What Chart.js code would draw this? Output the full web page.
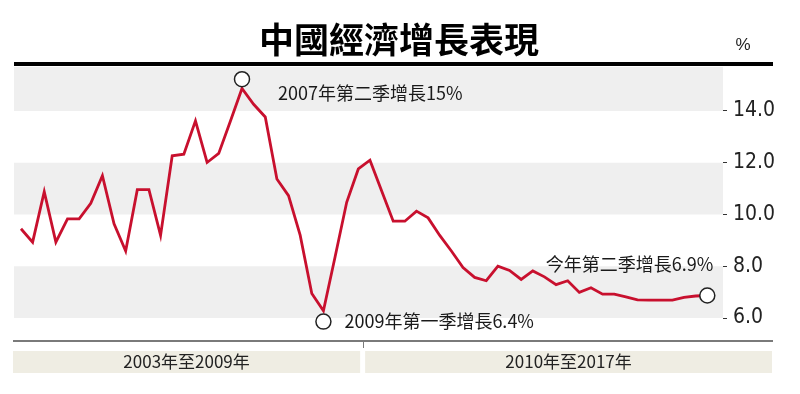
<!DOCTYPE html>
<html>
<head>
<meta charset="utf-8">
<script src="https://cdn.jsdelivr.net/npm/chart.js@4.4.0/dist/chart.umd.min.js"></script>
<style>
  html, body { margin: 0; padding: 0; background: #fff; }
</style>
</head>
<body>
<canvas id="myChart" width="800" height="394"></canvas>
<script>
// quarterly GDP growth, 2002Q3 .. 2017Q2
var quarters = [];
for (var yr = 2002; yr <= 2017; yr++) {
  for (var q = 1; q <= 4; q++) {
    if ((yr === 2002 && q < 3) || (yr === 2017 && q > 2)) continue;
    quarters.push(yr + "Q" + q);
  }
}
var growth = [
  9.45, 8.93, 10.88, 8.93, 9.83, 9.83, 10.43, 11.5, 9.64, 8.59,
  10.96, 10.96, 9.19, 12.27, 12.33, 13.62, 12.01, 12.36, 13.6, 14.87,
  14.26, 13.77, 11.37, 10.73, 9.2, 6.95, 6.28, 8.36, 10.47, 11.76,
  12.1, 10.92, 9.74, 9.74, 10.13, 9.87, 9.19, 8.59, 7.95, 7.57,
  7.44, 8.0, 7.84, 7.49, 7.82, 7.59, 7.29, 7.44, 6.99, 7.17,
  6.92, 6.92, 6.82, 6.7, 6.69, 6.69, 6.69, 6.8, 6.85, 6.87
];
var yTicks = [6, 8, 10, 12, 14];
var periods = ["2003年至2009年", "2010年至2017年"];
var noteQuarter = ["2007Q2", "2009Q1", "2017Q2"];
var noteMarker = [15.23, 5.86, 6.87];
var noteText = ["2007年第二季增長15%", "2009年第一季增長6.4%", "今年第二季增長6.9%"];

var cjk = "'Noto Sans CJK TC', 'Noto Sans CJK SC', sans-serif";
var noteStyle = [
  { dx: 36, dy: 14, align: "left" },
  { dx: 21, dy: 0, align: "left" },
  { dx: 6, dy: -31, align: "right" }
];

var decor = {
  id: "decor",
  beforeDraw: function (chart) {
    var c = chart.ctx, a = chart.chartArea, ys = chart.scales.y, xs = chart.scales.x;
    c.save();
    // grey bands between ticks
    c.fillStyle = "#efefef";
    for (var k = 0; k < yTicks.length; k += 2) {
      var lo = yTicks[k];
      var hi = k + 1 < yTicks.length ? yTicks[k + 1] : ys.max;
      var y1 = ys.getPixelForValue(hi), y2 = ys.getPixelForValue(lo);
      c.fillRect(a.left, y1, a.right - a.left, y2 - y1);
    }
    // thick rule under title
    c.fillStyle = "#000";
    c.fillRect(14, 62, 759, 4);
    c.font = "17px 'Liberation Sans', sans-serif";
    c.textAlign = "center";
    c.textBaseline = "middle";
    c.fillStyle = "#222";
    c.fillText("%", 743, 45);

    // bottom period bar
    var split = xs.getPixelForValue(quarters.indexOf("2010Q1") - 0.5);
    c.fillStyle = "#7a7a7a";
    c.fillRect(13, 340, 760, 2);
    c.fillRect(Math.round(split) - 1, 342, 1, 6);
    c.fillStyle = "#efede3";
    c.fillRect(13, 351, split - 17, 22);
    c.fillRect(split + 1, 351, 772 - split - 1, 22);
    c.fillStyle = "#222";
    c.font = "17px " + cjk;
    c.fillText(periods[0], (13 + split - 4) / 2, 362);
    c.fillText(periods[1], (split + 1 + 772) / 2, 362);
    c.restore();
  },
  afterDatasetsDraw: function (chart) {
    var c = chart.ctx, ys = chart.scales.y, xs = chart.scales.x;
    c.save();
    c.font = "18px " + cjk;
    c.fillStyle = "#1a1a1a";
    c.textBaseline = "middle";
    for (var k = 0; k < noteText.length; k++) {
      var px = xs.getPixelForValue(quarters.indexOf(noteQuarter[k]));
      var py = ys.getPixelForValue(noteMarker[k]);
      var s = noteStyle[k];
      c.textAlign = s.align;
      c.fillText(noteText[k], px + s.dx, py + s.dy);
    }
    c.restore();
  }
};

var ctx = document.getElementById("myChart").getContext("2d");
var myChart = new Chart(ctx, {
  type: "line",
  data: {
    datasets: [
      {
        label: "markers",
        data: noteQuarter.map(function (qq, k) { return { x: quarters.indexOf(qq), y: noteMarker[k] }; }),
        showLine: false,
        pointRadius: 7.5,
        pointBackgroundColor: "#fff",
        pointBorderColor: "#222",
        pointBorderWidth: 1.5,
        clip: false
      },
      {
        label: "中國經濟增長",
        data: growth.map(function (v, i) { return { x: i, y: v }; }),
        borderColor: "#c8102e",
        borderWidth: 2.8,
        pointRadius: 0,
        tension: 0,
        fill: false
      }
    ]
  },
  options: {
    responsive: false,
    animation: false,
    layout: { padding: { left: 14, right: 16, top: 0, bottom: 76 } },
    plugins: {
      legend: { display: false },
      tooltip: { enabled: false },
      title: {
        display: true,
        text: "中國經濟增長表現",
        color: "#000",
        font: { family: cjk, size: 35, weight: "bold" },
        padding: { top: 19, bottom: 6 }
      }
    },
    scales: {
      x: { type: "linear", min: -0.6, max: 60.35, display: false },
      y: {
        position: "right",
        min: 6,
        max: 15.7,
        border: { display: false },
        grid: { drawOnChartArea: false, tickLength: 4, color: "#333" },
        ticks: {
          stepSize: 2,
          includeBounds: false,
          padding: 6,
          color: "#222",
          font: { family: "'Liberation Sans Narrow', 'DejaVu Sans Condensed', sans-serif", size: 21 },
          callback: function (v) { return v.toFixed(1); }
        },
        afterFit: function (s) { s.width = 61; }
      }
    }
  },
  plugins: [decor]
});
</script>
</body>
</html>
